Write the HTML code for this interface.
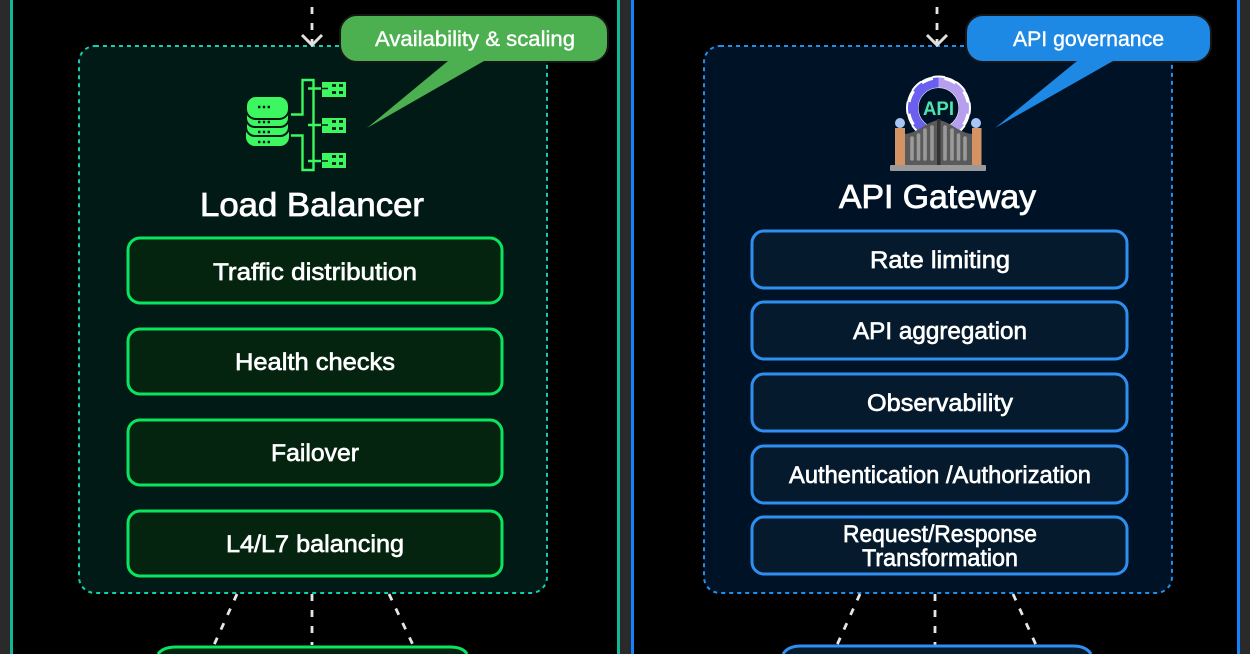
<!DOCTYPE html>
<html><head><meta charset="utf-8"><style>
html,body{margin:0;padding:0;background:#000;width:1250px;height:654px;overflow:hidden}
svg{display:block}
text{font-family:"Liberation Sans",sans-serif;fill:#fff;text-anchor:start}
.r{font-size:24px;stroke:#fff;stroke-width:.65px}
.t{font-size:33px;stroke:#fff;stroke-width:.8px}
.c{font-size:21px;stroke:#fff;stroke-width:.4px}
.g{fill:#04240f;stroke:#0ae45f;stroke-width:3}
.b{fill:#051a2c;stroke:#2f8ff0;stroke-width:3}
.d{stroke:#e6e6e6;stroke-width:2.8;fill:none;stroke-dasharray:7 9}
</style></head><body>
<svg width="1250" height="654" viewBox="0 0 1250 654" xmlns="http://www.w3.org/2000/svg">
<defs>
<clipPath id="lh"><rect x="900" y="70" width="38.500" height="76"/></clipPath>
<clipPath id="rh"><rect x="938.500" y="70" width="38.500" height="76"/></clipPath>
</defs>
<rect width="1250" height="654" fill="#000"/>
<rect x="0" y="0" width="10" height="654" fill="#2a2a2a"/>
<rect x="10" y="0" width="3" height="654" fill="#10b898"/>
<rect x="617" y="0" width="3" height="654" fill="#10b898"/>
<rect x="620" y="0" width="11" height="654" fill="#2a2a2a"/>
<rect x="631" y="0" width="3" height="654" fill="#1482ff"/>
<rect x="1237" y="0" width="3" height="654" fill="#1482ff"/>
<rect x="1240" y="0" width="10" height="654" fill="#2a2a2a"/>

<!-- panels -->
<rect x="79" y="46" width="468" height="547" rx="16" fill="#021a15" stroke="#10d0b0" stroke-width="2" stroke-dasharray="4 4"/>
<rect x="704" y="46" width="468" height="547" rx="16" fill="#001326" stroke="#1e90f0" stroke-width="2" stroke-dasharray="4 4"/>

<!-- top arrows -->
<path class="d" d="M312 7V45"/>
<path d="M302 35L312 45L322 35" fill="none" stroke="#e0e0e0" stroke-width="3"/>
<path class="d" d="M937 7V45"/>
<path d="M927 35L937 45L947 35" fill="none" stroke="#e0e0e0" stroke-width="3"/>

<!-- bottom connectors -->
<path class="d" d="M237 594L214 645M312 594V645M389 594L413 645"/>
<path class="d" d="M860 594L837 645M935 594V645M1013 594L1036 645"/>

<!-- bottom boxes -->
<path d="M157 654V663Q157 647 173 647H451Q467 647 467 654" class="g" style="display:none"/>
<path d="M158 654Q163 647 176 647H450Q463 647 467 654Z" fill="#04240f"/>
<path d="M158 654Q163 647 176 647H450Q463 647 467 654" fill="none" stroke="#0ae45f" stroke-width="3"/>
<path d="M783 654Q788 646 801 646H1073Q1086 646 1091 654Z" fill="#051a2c"/>
<path d="M783 654Q788 646 801 646H1073Q1086 646 1091 654" fill="none" stroke="#2f8ff0" stroke-width="3"/>

<!-- green rows -->
<rect x="128" y="238" width="374" height="65" rx="12" class="g"/>
<rect x="128" y="329" width="374" height="65" rx="12" class="g"/>
<rect x="128" y="420" width="374" height="65" rx="12" class="g"/>
<rect x="128" y="511" width="374" height="65" rx="12" class="g"/>
<text class="r" x="213" y="280" textLength="204" lengthAdjust="spacingAndGlyphs">Traffic distribution</text>
<text class="r" x="235" y="370" textLength="160" lengthAdjust="spacingAndGlyphs">Health checks</text>
<text class="r" x="271" y="461" textLength="88" lengthAdjust="spacingAndGlyphs">Failover</text>
<text class="r" x="226" y="552" textLength="178" lengthAdjust="spacingAndGlyphs">L4/L7 balancing</text>

<!-- blue rows -->
<rect x="752" y="231" width="375" height="57" rx="12" class="b"/>
<rect x="752" y="302" width="375" height="57" rx="12" class="b"/>
<rect x="752" y="374" width="375" height="57" rx="12" class="b"/>
<rect x="752" y="446" width="375" height="57" rx="12" class="b"/>
<rect x="752" y="517" width="375" height="57" rx="12" class="b"/>
<text class="r" x="870" y="268" textLength="140" lengthAdjust="spacingAndGlyphs">Rate limiting</text>
<text class="r" x="853" y="339" textLength="174" lengthAdjust="spacingAndGlyphs">API aggregation</text>
<text class="r" x="867" y="411" textLength="146" lengthAdjust="spacingAndGlyphs">Observability</text>
<text class="r" x="789" y="483" textLength="302" lengthAdjust="spacingAndGlyphs">Authentication /Authorization</text>
<text class="r" x="843" y="542" textLength="194" lengthAdjust="spacingAndGlyphs">Request/Response</text>
<text class="r" x="862" y="566" textLength="156" lengthAdjust="spacingAndGlyphs">Transformation</text>

<!-- titles -->
<text class="t" x="200" y="216" textLength="224" lengthAdjust="spacingAndGlyphs">Load Balancer</text>
<text class="t" x="839" y="208" textLength="197" lengthAdjust="spacingAndGlyphs">API Gateway</text>

<!-- callouts -->
<rect x="340" y="15" width="268" height="47" rx="17" fill="#4caf50" stroke="#161616" stroke-width="2"/>
<path d="M448 61L367 128L484 61Z" fill="#4caf50"/>
<text class="c" x="375" y="46" textLength="200" lengthAdjust="spacingAndGlyphs">Availability &amp; scaling</text>
<rect x="966" y="15" width="245" height="47" rx="17" fill="#1e88e5" stroke="#161616" stroke-width="2"/>
<path d="M1077 61L995 128L1113 61Z" fill="#1e88e5"/>
<text class="c" x="1013" y="46" textLength="151" lengthAdjust="spacingAndGlyphs">API governance</text>

<!-- load balancer icon -->
<g>
<rect x="246" y="124" width="43" height="22" rx="9" fill="#3cf75f"/>
<rect x="246" y="114" width="43" height="22" rx="9" fill="#3cf75f" stroke="#021a15" stroke-width="2"/>
<rect x="246" y="105" width="43" height="22" rx="9" fill="#3cf75f" stroke="#021a15" stroke-width="2"/>
<rect x="246" y="96" width="43" height="23" rx="10" fill="#3cf75f" stroke="#021a15" stroke-width="2"/>
<path d="M258 107h14M258 122h14M258 132h14M258 142h14" stroke="#021a15" stroke-width="2.400" stroke-dasharray="2.400 2.400" fill="none"/>
<path d="M291 114.500H302.500V80H313.500V170H302.500V135.500H291" fill="none" stroke="#3cf75f" stroke-width="2.400"/>
<path d="M308 88.500H321M308 125H321M308 161H321" stroke="#3cf75f" stroke-width="2.400"/>
<rect x="322" y="82" width="24" height="15" fill="#3cf75f"/>
<rect x="322" y="118" width="24" height="15" fill="#3cf75f"/>
<rect x="322" y="153" width="24" height="15" fill="#3cf75f"/>
<path d="M322 88.500h6M322 125h6M322 161h6" stroke="#021a15" stroke-width="1.600"/>
<path d="M332 85.500h4M339 85.500h4M332 92.500h4M339 92.500h4M332 121.500h4M339 121.500h4M332 128.500h4M339 128.500h4M332 156.500h4M339 156.500h4M332 163.500h4M339 163.500h4" stroke="#021a15" stroke-width="2.800"/>
</g>

<!-- gateway icon -->
<g>
<circle cx="938.500" cy="108" r="26" fill="none" stroke="#fff" stroke-width="12"/>
<circle cx="938.500" cy="108" r="30" fill="none" stroke="#fff" stroke-width="5" stroke-dasharray="11.780 11.780" stroke-dashoffset="5.890"/>
<g clip-path="url(#lh)">
<circle cx="938.500" cy="108" r="24.500" fill="none" stroke="#6a5fef" stroke-width="8"/>
<circle cx="938.500" cy="108" r="28.500" fill="none" stroke="#6a5fef" stroke-width="4" stroke-dasharray="11.190 11.190" stroke-dashoffset="5.600"/>
</g>
<g clip-path="url(#rh)">
<circle cx="938.500" cy="108" r="24.500" fill="none" stroke="#b79ff0" stroke-width="8"/>
<circle cx="938.500" cy="108" r="28.500" fill="none" stroke="#b79ff0" stroke-width="4" stroke-dasharray="11.190 11.190" stroke-dashoffset="5.600"/>
</g>
<text x="923" y="115" textLength="31" lengthAdjust="spacingAndGlyphs" style="font-size:19px;font-weight:bold;fill:#4fe3b0">API</text>
<path d="M905 134C918 133 926 122 938.500 120C951 122 959 133 972 134V165H905Z" fill="#5a5a5a"/>
<rect x="937" y="119" width="3.500" height="46" fill="#333"/>
<path d="M912 138V159M918.500 135V159M925 130V159M932 127V159M945 127V159M952 130V159M958.500 135V159M965 138V159" stroke="#9a9a9a" stroke-width="3.600" stroke-linecap="round"/>
<rect x="895" y="128" width="10" height="37" fill="#d39365"/>
<rect x="972" y="128" width="9.500" height="37" fill="#d39365"/>
<circle cx="900" cy="123" r="5" fill="#a8c6f5"/>
<circle cx="976" cy="123" r="5" fill="#a8c6f5"/>
<rect x="890" y="165" width="96" height="6" rx="1" fill="#9a9a9a"/>
</g>
</svg>
</body></html>
